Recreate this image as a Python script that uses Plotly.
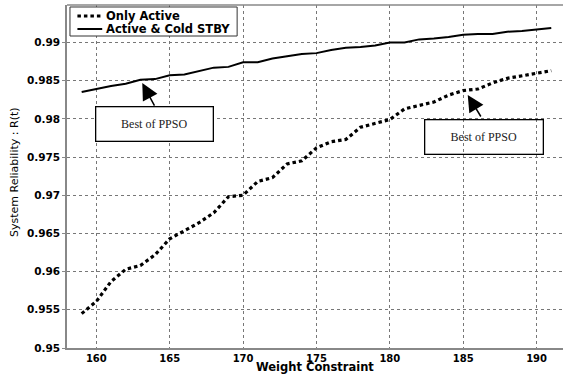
import plotly.graph_objects as go

weight = list(range(159, 192))
only_active = [0.9545, 0.9561, 0.9587, 0.9603, 0.9608, 0.9622, 0.9643, 0.9654, 0.9664, 0.9677,
               0.9698, 0.9700, 0.9718, 0.9723, 0.9741, 0.9745, 0.9762, 0.9770, 0.9773, 0.9789,
               0.9794, 0.9799, 0.9813, 0.9818, 0.9822, 0.9831, 0.9837, 0.9839, 0.9847, 0.9853,
               0.9856, 0.9860, 0.9863]
active_cold = [0.9835, 0.9839, 0.9843, 0.9846, 0.9851, 0.9852, 0.9857, 0.9858, 0.9863, 0.9867,
               0.9868, 0.9874, 0.9874, 0.9879, 0.9882, 0.9885, 0.9886, 0.9890, 0.9893, 0.9894,
               0.9896, 0.9900, 0.9900, 0.9904, 0.9905, 0.9907, 0.9910, 0.9911, 0.9911, 0.9914,
               0.9915, 0.9917, 0.9919]
series_names = ["Only Active", "Active & Cold STBY"]
x_ticks = [160, 165, 170, 175, 180, 185, 190]
y_ticks = [0.95, 0.955, 0.96, 0.965, 0.97, 0.975, 0.98, 0.985, 0.99]
y_tick_text = ["0.95", "0.955", "0.96", "0.965", "0.97", "0.975", "0.98", "0.985", "0.99"]

dotted = dict(color="black", width=3.2, dash="3.5px,3px")
solid = dict(color="black", width=2)

fig = go.Figure()
fig.add_trace(go.Scatter(x=weight, y=only_active, mode="lines", name=series_names[0], line=dotted))
fig.add_trace(go.Scatter(x=weight, y=active_cold, mode="lines", name=series_names[1], line=solid))

bold = dict(family="DejaVu Sans", size=10.5, color="black", weight="bold")
xbold = dict(family="DejaVu Sans", size=10, color="black", weight="bold")
fig.update_layout(
    width=563, height=376,
    margin=dict(l=67, r=0, t=5, b=28, autoexpand=False),
    paper_bgcolor="white", plot_bgcolor="white",
    showlegend=False,
    xaxis=dict(range=[158, 191.8], tickvals=x_ticks, showgrid=True, automargin=False,
               gridcolor="#777", griddash="dot", gridwidth=1,
               showline=True, linecolor="#888", linewidth=1.5, mirror=False,
               ticks="", tickfont=xbold, zeroline=False),
    yaxis=dict(range=[0.95, 0.9949], tickvals=y_ticks, ticktext=y_tick_text, showgrid=True,
               automargin=False,
               gridcolor="#777", griddash="dot", gridwidth=1,
               showline=True, linecolor="#888", linewidth=1.5,
               ticks="outside", ticklen=3, tickcolor="#888", tickfont=bold, zeroline=False),
)
# top frame line
fig.add_shape(type="line", xref="paper", yref="paper", x0=0, x1=1, y0=1, y1=1,
              line=dict(color="#888", width=1.5))

# compact legend (box, samples, labels)
fig.add_shape(type="rect", xref="paper", yref="paper", x0=0.006, x1=0.343, y0=0.9096, y1=0.9942,
              line=dict(color="#333", width=1), fillcolor="white")
leg_rows = [0.968, 0.930]
for row_y, ln, name in zip(leg_rows, [dotted, solid], series_names):
    fig.add_shape(type="line", xref="paper", yref="paper", x0=0.021, x1=0.071, y0=row_y, y1=row_y,
                  line=ln)
    fig.add_annotation(xref="paper", yref="paper", x=0.075, y=row_y, xanchor="left",
                       yanchor="middle", text=name, showarrow=False,
                       font=dict(family="DejaVu Sans", size=11.5, color="black", weight="bold"))

# axis titles
fig.add_annotation(xref="paper", yref="paper", x=0.501, y=-0.0816, yanchor="bottom",
                   text="Weight Constraint", showarrow=False,
                   font=dict(family="DejaVu Sans", size=11.5, color="black", weight="bold"))
fig.add_annotation(xref="paper", yref="paper", x=-0.107, y=0.513, xanchor="center",
                   yanchor="middle", textangle=-90,
                   text="System Reliability : R(t)", showarrow=False,
                   font=dict(family="DejaVu Sans", size=11, color="black"))

serif = dict(family="Liberation Serif", size=12, color="#222")
fig.add_annotation(x=163.95, y=0.97929, text="Best of PPSO", showarrow=False,
                   width=116, height=33, bordercolor="black", borderwidth=1.3, borderpad=0,
                   bgcolor="white", font=serif)
fig.add_annotation(x=186.43, y=0.9776, text="Best of PPSO", showarrow=False,
                   width=117, height=33, bordercolor="black", borderwidth=1.3, borderpad=0,
                   font=serif)
fig.add_annotation(x=163.13, y=0.98468, text="", showarrow=True, arrowhead=2,
                   arrowsize=2.2, arrowwidth=1.5, arrowcolor="black", ax=13, ay=24, standoff=0)
fig.add_annotation(x=185.31, y=0.98312, text="", showarrow=True, arrowhead=2,
                   arrowsize=2.2, arrowwidth=1.5, arrowcolor="black", ax=14, ay=23, standoff=0)

fig.write_html("out.html", config={"displayModeBar": False},
               post_script="document.body.style.margin='0';")
